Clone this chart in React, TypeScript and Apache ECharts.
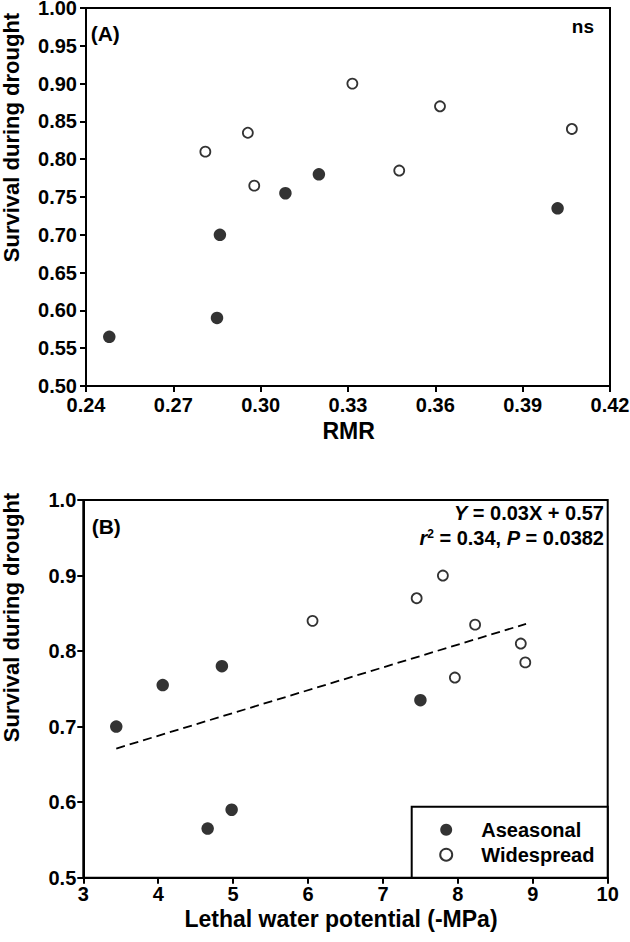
import React, { useEffect, useRef } from 'react';
import * as echarts from 'echarts';

// Panel A: RMR vs survival
const rmrAseasonal = [0.248, 0.286, 0.285, 0.3085, 0.320, 0.402];
const survAAseasonal = [0.565, 0.70, 0.59, 0.755, 0.78, 0.735];
const rmrWidespread = [0.281, 0.2956, 0.2978, 0.3315, 0.3616, 0.3476, 0.4069];
const survAWidespread = [0.81, 0.835, 0.765, 0.90, 0.87, 0.785, 0.84];

// Panel B: lethal water potential vs survival
const lwpAseasonal = [3.44, 4.06, 4.85, 4.66, 4.98, 7.50];
const survBAseasonal = [0.70, 0.755, 0.78, 0.565, 0.59, 0.735];
const lwpWidespread = [6.06, 7.45, 7.80, 8.23, 8.84, 8.90, 7.96];
const survBWidespread = [0.84, 0.87, 0.90, 0.835, 0.81, 0.785, 0.765];

// Regression line endpoints
const fitX = [3.44, 8.91];
const fitY = [0.671, 0.836];

const seriesNames = ['Aseasonal', 'Widespread'];

const FONT = 'Liberation Sans, Arial, Helvetica, sans-serif';

const zip = (xs: number[], ys: number[]) => xs.map((x, i) => [x, ys[i]]);

const axisCommon = (labelMargin: number, digits: number) => ({
  type: 'value' as const,
  axisLine: { show: true, onZero: false, lineStyle: { color: '#000', width: 2 } },
  axisTick: { show: true, inside: false, length: 6, lineStyle: { color: '#000', width: 2 } },
  splitLine: { show: false },
  axisLabel: {
    color: '#000',
    fontWeight: 'bold' as const,
    fontSize: 20,
    lineHeight: 16,
    fontFamily: FONT,
    margin: labelMargin,
    formatter: (v: number) => v.toFixed(digits),
  },
});

const txt = (text: string, x: number, y: number, size: number, align: string, extra: any = {}) => ({
  type: 'text',
  x,
  y,
  z: 20,
  ...extra,
  style: {
    text,
    fontSize: size,
    fontWeight: 'bold',
    fontFamily: FONT,
    fill: '#000',
    align,
    verticalAlign: 'middle',
    ...(extra.style || {}),
  },
});

const richBase = { fontSize: 20, fontWeight: 'bold', fontFamily: FONT, fill: '#000' };

export default function App() {
  const ref = useRef<HTMLDivElement>(null);
  useEffect(() => {
    if (!ref.current) return;
    const chart = echarts.init(ref.current, undefined, { renderer: 'svg' });
    const open = { color: '#fff', borderColor: '#000', borderWidth: 1.8 };
    const filled = { color: '#000' };
    chart.setOption({
      animation: false,
      backgroundColor: '#fff',
      grid: [
        { left: 86, top: 8, width: 524, height: 378, show: true, borderColor: '#000', borderWidth: 2, backgroundColor: 'transparent', outerBoundsMode: 'none' },
        { left: 83.3, top: 500, width: 524.4, height: 377.7, show: true, borderColor: '#000', borderWidth: 2, backgroundColor: 'transparent', outerBoundsMode: 'none' },
      ],
      xAxis: [
        { ...axisCommon(11, 2), gridIndex: 0, min: 0.24, max: 0.42, interval: 0.03 },
        { ...axisCommon(8, 0), gridIndex: 1, min: 3, max: 10, interval: 1 },
      ],
      yAxis: [
        { ...axisCommon(9, 2), gridIndex: 0, min: 0.5, max: 1.0, interval: 0.05 },
        { ...axisCommon(7, 1), gridIndex: 1, min: 0.5, max: 1.0, interval: 0.1 },
      ],
      legend: {
        data: seriesNames,
        orient: 'vertical',
        left: 439.2,
        top: 819.7,
        itemWidth: 60,
        itemHeight: 12,
        itemGap: 5,
        padding: 0,
        selectedMode: false,
        z: 10,
        textStyle: { fontSize: 20, fontWeight: 'bold', color: '#000', fontFamily: FONT },
      },
      series: [
        { name: seriesNames[0], type: 'scatter', xAxisIndex: 0, yAxisIndex: 0, symbol: 'circle', symbolSize: 12.5, itemStyle: filled, data: zip(rmrAseasonal, survAAseasonal) },
        { name: seriesNames[1], type: 'scatter', xAxisIndex: 0, yAxisIndex: 0, symbol: 'circle', symbolSize: 10, itemStyle: open, data: zip(rmrWidespread, survAWidespread) },
        { name: seriesNames[0], type: 'scatter', xAxisIndex: 1, yAxisIndex: 1, symbol: 'circle', symbolSize: 12.5, itemStyle: filled, data: zip(lwpAseasonal, survBAseasonal) },
        { name: seriesNames[1], type: 'scatter', xAxisIndex: 1, yAxisIndex: 1, symbol: 'circle', symbolSize: 10, itemStyle: open, data: zip(lwpWidespread, survBWidespread) },
        {
          name: 'fit', type: 'line', xAxisIndex: 1, yAxisIndex: 1, symbol: 'none', showSymbol: false,
          lineStyle: { color: '#000', width: 1.8, type: [9, 5] },
          data: zip(fitX, fitY), z: 1,
        },
      ],
      graphic: [
        { type: 'rect', z: 3, shape: { x: 411.7, y: 806.7, width: 196, height: 71 }, style: { fill: '#fff', stroke: '#000', lineWidth: 2 } },
        txt('(A)', 90.7, 33, 21, 'left'),
        txt('ns', 594, 26, 19, 'right'),
        txt('RMR', 348.7, 430.5, 23, 'center'),
        txt('Survival during drought', 11.5, 137.5, 22, 'center', { rotation: Math.PI / 2 }),
        txt('(B)', 91.7, 526.5, 21, 'left'),
        {
          type: 'text', x: 604, y: 513, z: 20,
          style: {
            text: '{i|Y} = 0.03X + 0.57',
            ...richBase, align: 'right', verticalAlign: 'middle',
            rich: { i: { ...richBase, fontStyle: 'italic' } },
          },
        },
        {
          type: 'text', x: 604, y: 538.3, z: 20,
          style: {
            text: '{i|r}{s|2}{n| = 0.34, }{i|P}{n| = 0.0382}',
            ...richBase, align: 'right', verticalAlign: 'middle',
            rich: {
              i: { ...richBase, fontStyle: 'italic' },
              n: { ...richBase },
              s: { ...richBase, fontSize: 12, verticalAlign: 'top' },
            },
          },
        },
        txt('Lethal water potential (-MPa)', 341, 918.8, 23, 'center'),
        txt('Survival during drought', 11.5, 617.5, 22, 'center', { rotation: Math.PI / 2 }),
      ],
    });
    return () => chart.dispose();
  }, []);
  return <div ref={ref} style={{ position: 'absolute', left: 0, top: 0, width: 630, height: 942 }} />;
}
